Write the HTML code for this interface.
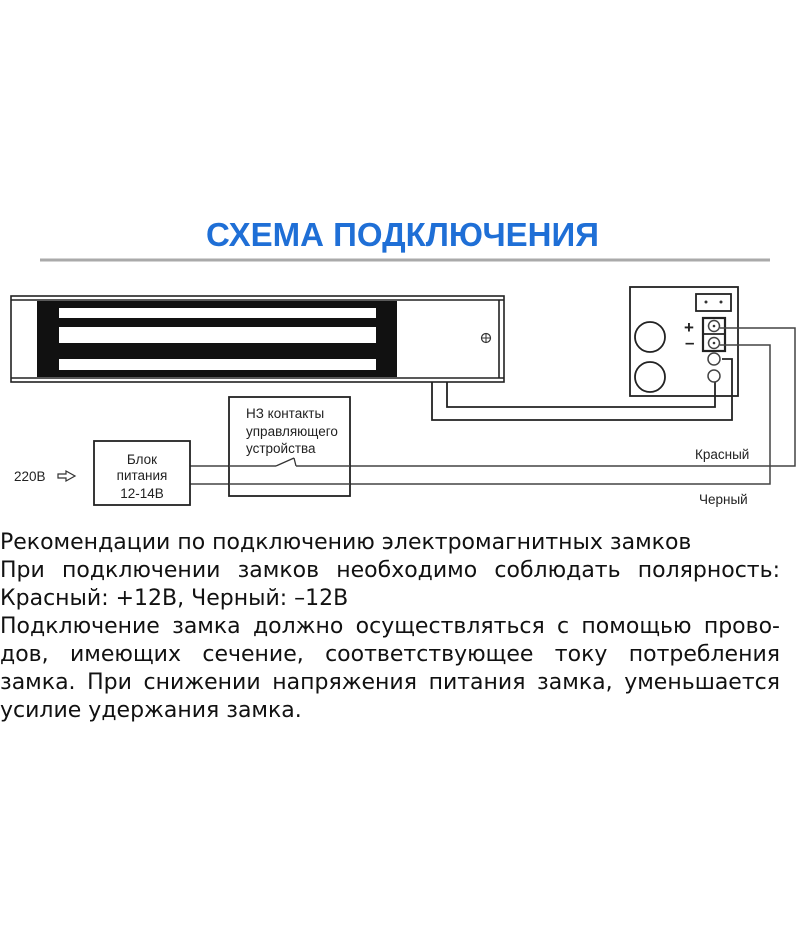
<!DOCTYPE html>
<html><head><meta charset="utf-8"><style>
html,body{margin:0;padding:0;background:#fff;width:800px;height:950px;overflow:hidden;position:relative}
.t{position:absolute;left:0;width:780px;font-family:"DejaVu Sans","Liberation Sans",sans-serif;font-size:22px;line-height:28px;color:#111;white-space:nowrap}
.j{text-align:justify;text-align-last:justify;white-space:normal}
h1{position:absolute;left:0;width:805px;top:215px;margin:0;text-align:center;font-family:"Liberation Sans",sans-serif;font-weight:bold;font-size:33px;line-height:40px;color:#1f6fd6}
</style></head><body>
<h1>СХЕМА ПОДКЛЮЧЕНИЯ</h1>
<svg width="800" height="520" style="position:absolute;left:0;top:0" font-family="Liberation Sans, sans-serif">
<line x1="40" y1="260" x2="770" y2="260" stroke="#aaa" stroke-width="3"/>
<g fill="none" stroke="#222" stroke-width="1.6">
<rect x="11" y="296" width="493" height="86"/>
<line x1="11" y1="300" x2="504" y2="300"/>
<line x1="11" y1="378" x2="504" y2="378"/>
<line x1="499" y1="300" x2="499" y2="378"/>
</g>
<rect x="37" y="301" width="360" height="76" fill="#111"/>
<rect x="59" y="308" width="317" height="10" fill="#fff"/>
<rect x="59" y="327" width="317" height="16" fill="#fff"/>
<rect x="59" y="359" width="317" height="11" fill="#fff"/>
<circle cx="486" cy="338" r="4.5" fill="none" stroke="#333" stroke-width="1.2"/>
<line x1="481" y1="338" x2="491" y2="338" stroke="#333"/><line x1="486" y1="333" x2="486" y2="343" stroke="#333"/>
<g fill="none" stroke="#222" stroke-width="1.8">
<polyline points="432,382 432,420 732,420 732,359 722,359"/>
<polyline points="447,382 447,407 715,407 715,382"/>
<rect x="630" y="287" width="108" height="109"/>
<rect x="696" y="294" width="35" height="17"/>
<rect x="703" y="318" width="22" height="33" stroke-width="2.2"/>
<line x1="703" y1="334" x2="725" y2="334"/>
<circle cx="650" cy="337" r="15"/><circle cx="650" cy="377" r="15"/>
</g>
<g fill="none" stroke="#444" stroke-width="1.5">
<circle cx="714" cy="326" r="5.5"/><circle cx="714" cy="343" r="5.5"/>
<circle cx="714" cy="359" r="6"/><circle cx="714" cy="376" r="6"/>
<polyline points="720,328 795,328 795,466 190,466"/>
<polyline points="720,345 770,345 770,484 190,484"/>
</g>
<circle cx="706" cy="302" r="1.5" fill="#333"/><circle cx="721" cy="302" r="1.5" fill="#333"/>
<circle cx="714" cy="326" r="1.3" fill="#333"/><circle cx="714" cy="343" r="1.3" fill="#333"/>
<text x="684" y="333" font-size="17" font-weight="bold" fill="#222">+</text>
<text x="685" y="348" font-size="17" font-weight="bold" fill="#222">–</text>
<rect x="229" y="397" width="121" height="99" fill="#fff" stroke="#222" stroke-width="1.8"/>
<line x1="229" y1="466" x2="276" y2="466" stroke="#444" stroke-width="1.5"/>
<line x1="276" y1="466" x2="294" y2="458" stroke="#333" stroke-width="1.3"/>
<line x1="294" y1="458" x2="296" y2="466" stroke="#333" stroke-width="1.3"/>
<line x1="296" y1="466" x2="350" y2="466" stroke="#444" stroke-width="1.5"/>
<line x1="229" y1="484" x2="350" y2="484" stroke="#444" stroke-width="1.5"/>
<rect x="94" y="441" width="96" height="64" fill="#fff" stroke="#222" stroke-width="1.8"/>
<g font-size="13.5" fill="#222">
<text x="246" y="418">НЗ контакты</text>
<text x="246" y="436">управляющего</text>
<text x="246" y="453">устройства</text>
<text x="142" y="464" text-anchor="middle">Блок</text>
<text x="142" y="480" text-anchor="middle">питания</text>
<text x="142" y="498" text-anchor="middle">12-14В</text>
<text x="14" y="481">220В</text>
<text x="695" y="459">Красный</text>
<text x="699" y="504">Черный</text>
</g>
<path d="M58,474 h8 v-3 l9,5 l-9,5 v-3 h-8 z" fill="none" stroke="#333" stroke-width="1.2"/>
</svg>
<div class="t" style="top:529px">Рекомендации по подключению электромагнитных замков</div>
<div class="t j" style="top:557px">При подключении замков необходимо соблюдать полярность:</div>
<div class="t" style="top:585px">Красный: +12В, Черный: –12В</div>
<div class="t j" style="top:613px">Подключение замка должно осуществляться с помощью прово-</div>
<div class="t j" style="top:641px">дов, имеющих сечение, соответствующее току потребления</div>
<div class="t j" style="top:669px">замка. При снижении напряжения питания замка, уменьшается</div>
<div class="t" style="top:697px">усилие удержания замка.</div>
</body></html>
